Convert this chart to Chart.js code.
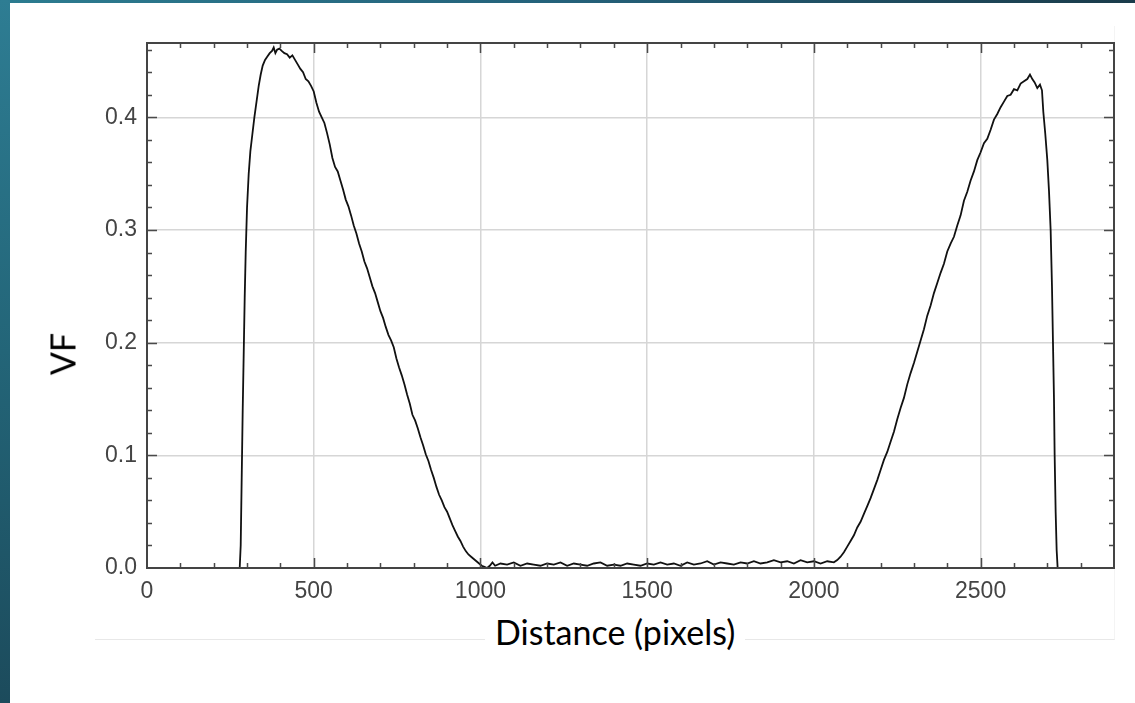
<!DOCTYPE html>
<html>
<head>
<meta charset="utf-8">
<script src="https://cdn.jsdelivr.net/npm/chart.js@4.4.1/dist/chart.umd.min.js"></script>
<style>
	html, body {
		margin: 0;
		width: 1135px;
		height: 703px;
		overflow: hidden;
	}
	body {
		position: relative;
		background: linear-gradient(90deg, #2c7c90 0%, #24617a 50%, #1a3b4a 100%);
	}
	#sheet {
		position: absolute;
		left: 10px;
		top: 3px;
		right: 0;
		bottom: 0;
		background: #fff;
	}
	#left-band {
		position: absolute;
		left: 0;
		top: 0;
		width: 10px;
		height: 703px;
		background: linear-gradient(180deg, #2e7d93 0%, #236578 50%, #1c4b5c 100%);
	}
	#frame {
		position: absolute;
		left: 95px;
		top: 26px;
		width: 1019px;
		height: 613px;
		border-bottom: 1px solid #e8e8e8;
		border-right: 1px solid #f4f4f4;
	}
	#chart {
		position: absolute;
		left: 0;
		top: 0;
	}
	.title {
		position: absolute;
		font-family: Lato, "Open Sans", sans-serif;
		font-size: 34px;
		color: #000;
		white-space: nowrap;
		background: #fff;
	}
	#xtitle {
		left: 485px;
		top: 611px;
		padding: 0 10px;
	}
	#ytitle {
		left: 62px;
		top: 354px;
		transform: translate(-50%, -50%) rotate(-90deg);
	}
</style>
</head>
<body>
<div id="sheet"></div>
<div id="left-band"></div>
<div id="frame"></div>
<canvas id="chart" width="1135" height="703"></canvas>
<div class="title" id="xtitle">Distance (pixels)</div>
<div class="title" id="ytitle">VF</div>
<script>
// left peak
const distLeft = [278, 281, 284, 287, 290, 293, 296, 300, 305, 310, 316, 322, 329, 335, 341, 347, 354, 361, 368, 375, 380, 385, 390, 397, 404, 412, 420, 428, 436, 444, 452, 460, 468, 476, 484, 492, 500, 508, 516, 524, 532, 540, 548, 556, 564, 572, 580, 588, 596, 604, 612, 620, 628, 636, 644, 652, 660, 668, 676, 684, 692, 700, 708, 716, 724, 732, 740, 748, 756, 764, 772, 780, 788, 796, 804, 812, 820, 828, 836, 844, 852, 860, 868, 876, 884, 892, 900, 908, 916, 924, 932, 940, 948, 956, 964, 972, 980, 988, 996, 1004, 1012, 1020, 1028, 1036, 1044];
const vfLeft = [0, 0.02, 0.08, 0.14, 0.19, 0.24, 0.28, 0.32, 0.35, 0.37, 0.385, 0.4, 0.415, 0.428, 0.438, 0.446, 0.451, 0.454, 0.457, 0.459, 0.462, 0.457, 0.46, 0.461, 0.459, 0.457, 0.456, 0.453, 0.455, 0.451, 0.447, 0.443, 0.44, 0.434, 0.432, 0.428, 0.423, 0.413, 0.405, 0.4, 0.395, 0.386, 0.376, 0.364, 0.356, 0.352, 0.344, 0.336, 0.327, 0.321, 0.313, 0.304, 0.297, 0.288, 0.281, 0.272, 0.266, 0.258, 0.25, 0.244, 0.236, 0.228, 0.222, 0.214, 0.207, 0.202, 0.196, 0.186, 0.178, 0.171, 0.163, 0.154, 0.146, 0.136, 0.131, 0.124, 0.116, 0.109, 0.101, 0.095, 0.087, 0.08, 0.072, 0.065, 0.06, 0.054, 0.05, 0.044, 0.038, 0.033, 0.028, 0.024, 0.019, 0.015, 0.012, 0.01, 0.008, 0.006, 0.004, 0.002, 0.001, 0, 0.002, 0.005, 0.002];

// flat middle
const distMid = [1060, 1080, 1100, 1120, 1140, 1160, 1180, 1200, 1220, 1240, 1260, 1280, 1300, 1320, 1340, 1360, 1380, 1400, 1420, 1440, 1460, 1480, 1500, 1520, 1540, 1560, 1580, 1600, 1620, 1640, 1660, 1680, 1700, 1720, 1740, 1760, 1780, 1800, 1820, 1840, 1860, 1880, 1900, 1920, 1940, 1960, 1980, 2000, 2020, 2040, 2060];
const vfMid = [0.004, 0.003, 0.005, 0.002, 0.004, 0.003, 0.002, 0.004, 0.003, 0.005, 0.002, 0.004, 0.003, 0.002, 0.004, 0.005, 0.002, 0.003, 0.002, 0.004, 0.003, 0.002, 0.004, 0.003, 0.005, 0.003, 0.004, 0.002, 0.005, 0.003, 0.004, 0.006, 0.003, 0.005, 0.004, 0.003, 0.005, 0.004, 0.006, 0.004, 0.005, 0.007, 0.005, 0.006, 0.004, 0.007, 0.005, 0.006, 0.004, 0.006, 0.005];

// right peak
const distRight = [2070, 2080, 2090, 2100, 2110, 2120, 2130, 2140, 2150, 2160, 2170, 2180, 2190, 2200, 2210, 2220, 2230, 2240, 2250, 2260, 2270, 2280, 2290, 2300, 2310, 2320, 2330, 2340, 2350, 2360, 2370, 2380, 2390, 2400, 2410, 2420, 2430, 2440, 2450, 2460, 2470, 2480, 2490, 2500, 2510, 2520, 2530, 2540, 2550, 2560, 2570, 2580, 2590, 2600, 2610, 2620, 2630, 2640, 2648, 2655, 2662, 2670, 2678, 2684, 2688, 2694, 2700, 2705, 2710, 2714, 2717, 2720, 2722, 2725, 2728, 2731];
const vfRight = [0.007, 0.01, 0.014, 0.019, 0.024, 0.029, 0.036, 0.041, 0.048, 0.055, 0.062, 0.07, 0.078, 0.087, 0.096, 0.103, 0.112, 0.121, 0.132, 0.142, 0.151, 0.163, 0.173, 0.182, 0.192, 0.202, 0.212, 0.224, 0.233, 0.244, 0.253, 0.262, 0.27, 0.281, 0.288, 0.294, 0.304, 0.313, 0.326, 0.334, 0.344, 0.352, 0.362, 0.369, 0.377, 0.381, 0.389, 0.398, 0.403, 0.409, 0.414, 0.419, 0.42, 0.425, 0.424, 0.43, 0.432, 0.434, 0.438, 0.434, 0.431, 0.426, 0.429, 0.424, 0.405, 0.385, 0.362, 0.335, 0.3, 0.25, 0.2, 0.15, 0.1, 0.05, 0.016, 0];

const xTicks = [0, 500, 1000, 1500, 2000, 2500];
const yTicks = [0.0, 0.1, 0.2, 0.3, 0.4];

const distance = distLeft.concat(distMid, distRight);
const vf = vfLeft.concat(vfMid, vfRight);

// box frame with inward ticks on all four sides
const frameTicks = {
	id: "frameTicks",
	afterDraw(chart) {
		const { ctx, chartArea: a, scales } = chart;
		ctx.save();
		ctx.strokeStyle = "#4a4a4a";
		ctx.lineWidth = 1.5;
		ctx.beginPath();
		for (let v = 100; v < 2900; v += 100) {
			const px = Math.round(scales.x.getPixelForValue(v)) + 0.5;
			const len = v % 500 === 0 ? 10 : 5;
			ctx.moveTo(px, a.bottom);
			ctx.lineTo(px, a.bottom - len);
			ctx.moveTo(px, a.top);
			ctx.lineTo(px, a.top + len);
		}
		for (let i = 1; i * 0.02 < 0.466; i++) {
			const py = Math.round(scales.y.getPixelForValue(i * 0.02)) + 0.5;
			const len = i % 5 === 0 ? 10 : 5;
			ctx.moveTo(a.left, py);
			ctx.lineTo(a.left + len, py);
			ctx.moveTo(a.right, py);
			ctx.lineTo(a.right - len, py);
		}
		ctx.stroke();
		ctx.lineWidth = 2;
		ctx.strokeStyle = "#444";
		ctx.strokeRect(a.left, a.top, a.right - a.left, a.bottom - a.top);
		ctx.restore();
	}
};

new Chart(document.getElementById("chart"), {
	type: "scatter",
	data: {
		datasets: [
			{
				data: distance.map((d, i) => ({ x: d, y: vf[i] })),
				showLine: true,
				borderColor: "#111",
				borderWidth: 1.8,
				pointRadius: 0
			}
		]
	},
	options: {
		responsive: false,
		animation: false,
		layout: {
			padding: { left: 0, top: 43, right: 21, bottom: 0 }
		},
		scales: {
			x: {
				type: "linear",
				min: 0,
				max: 2900,
				afterFit: (scale) => {
					scale.height = 135;
				},
				afterBuildTicks: (scale) => {
					scale.ticks = xTicks.map((v) => ({ value: v }));
				},
				grid: {
					color: "#d6d6d6",
					lineWidth: 1.5,
					drawTicks: false
				},
				border: { display: false },
				ticks: {
					padding: 10,
					color: "#444",
					font: { family: "Liberation Sans", size: 23 },
					callback: (v) => String(v)
				}
			},
			y: {
				min: 0,
				max: 0.466,
				afterFit: (scale) => {
					scale.width = 147;
				},
				afterBuildTicks: (scale) => {
					scale.ticks = yTicks.map((v) => ({ value: v }));
				},
				grid: {
					color: "#d6d6d6",
					lineWidth: 1.5,
					drawTicks: false
				},
				border: { display: false },
				ticks: {
					padding: 10,
					color: "#444",
					font: { family: "Liberation Sans", size: 23 },
					callback: (v) => v.toFixed(1)
				}
			}
		},
		plugins: {
			legend: { display: false },
			tooltip: { enabled: false }
		}
	},
	plugins: [frameTicks]
});
</script>
</body>
</html>
